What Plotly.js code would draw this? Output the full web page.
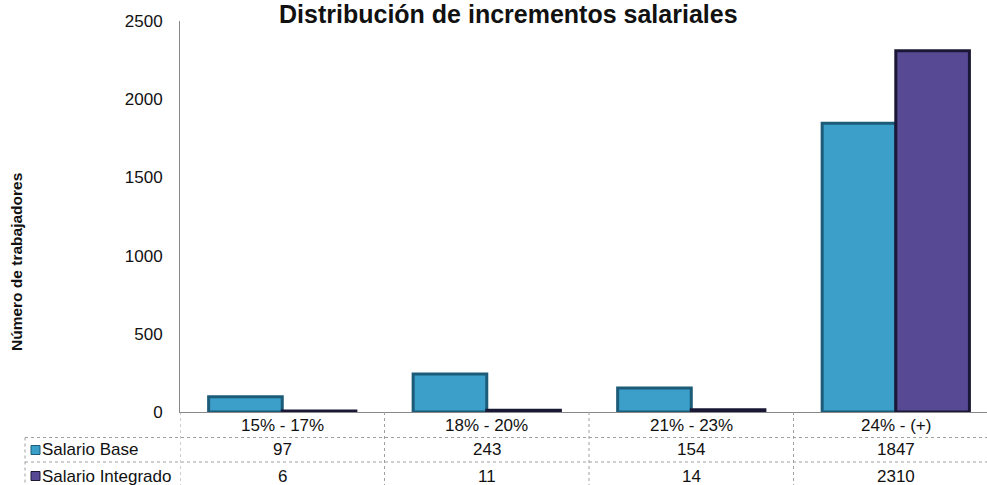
<!DOCTYPE html>
<html><head><meta charset="utf-8">
<script src="https://cdn.plot.ly/plotly-3.0.1.min.js"></script>
<style>html,body{margin:0;padding:0;background:#fff}#chart{width:987px;height:485px}</style>
</head><body><div id="chart"></div>
<script>
const categories = ["15% - 17%", "18% - 20%", "21% - 23%", "24% - (+)"];
const seriesNames = ["Salario Base", "Salario Integrado"];
const salarioBase = [97, 243, 154, 1847];
const salarioIntegrado = [6, 11, 14, 2310];
const yTicks = [0, 500, 1000, 1500, 2000, 2500];

const baseColor = "#3b9fc9", baseLine = "#1d5c78";
const intColor = "#584995", intLine = "#1a1836";
const font = "Liberation Sans, Arial, sans-serif";
const gridCol = "#a0a0a0";

const traces = [
  {type:"bar", name:seriesNames[0], x:categories, y:salarioBase,
   marker:{color:baseColor, line:{color:baseLine, width:3}}},
  {type:"bar", name:seriesNames[1], x:categories, y:salarioIntegrado,
   marker:{color:intColor, line:{color:intLine, width:3}}}
];

// plot area: left 180, width 807, bottom 412, height 391
const W = 807, H = 391;
const py = p => (412 - p) / H;   // pixel y -> paper y
const pxx = p => (p - 180) / W;  // pixel x -> paper x
const rowCat = py(425), rowBase = py(450), rowInt = py(476);

const shapes = [];
const annotations = [];
// horizontal table lines
[437.5, 462].forEach(ly => {
  shapes.push({type:"line", xref:"paper", yref:"paper",
    x0:pxx(25), x1:1, y0:py(ly), y1:py(ly),
    line:{color:gridCol, width:1, dash:"dot"}});
});
// vertical lines at category boundaries
for (let i = 0; i < categories.length; i++) {
  shapes.push({type:"line", xref:"x", yref:"paper",
    x0:i-0.5, x1:i-0.5, y0:py(412), y1:py(485),
    line:{color:gridCol, width:1, dash:"dot"}});
}
// left border of table
shapes.push({type:"line", xref:"paper", yref:"paper", x0:pxx(25), x1:pxx(25),
  y0:py(437.5), y1:py(485), line:{color:gridCol, width:1, dash:"dot"}});
// legend keys
[[baseColor, baseLine, 450],[intColor, intLine, 476]].forEach(([c, l, yy]) => {
  shapes.push({type:"rect", xref:"paper", yref:"paper",
    x0:pxx(31), x1:pxx(40), y0:py(yy+4.5), y1:py(yy-4.5),
    fillcolor:c, line:{color:l, width:1}});
});

const tf = {size:17, color:"#111", family:font};
categories.forEach((c, i) => {
  annotations.push({x:c, xref:"x", y:rowCat, yref:"paper", text:c, showarrow:false, yanchor:"middle", font:tf});
  annotations.push({x:c, xref:"x", y:rowBase, yref:"paper", text:String(salarioBase[i]), showarrow:false, yanchor:"middle", font:tf});
  annotations.push({x:c, xref:"x", y:rowInt, yref:"paper", text:String(salarioIntegrado[i]), showarrow:false, yanchor:"middle", font:tf});
});
[[seriesNames[0], rowBase],[seriesNames[1], rowInt]].forEach(([t, yy]) => {
  annotations.push({x:pxx(42), xref:"paper", y:yy, yref:"paper", text:t, showarrow:false,
    xanchor:"left", yanchor:"middle", xshift:-2, font:tf});
});
// y-axis title (placed as in the reference, slightly below plot centre)
annotations.push({x:pxx(16), xref:"paper", y:py(262), yref:"paper", textangle:-90,
  text:"<b>Número de trabajadores</b>", showarrow:false, xanchor:"center", yanchor:"middle",
  font:{size:15.5, color:"#111", family:font}});

const layout = {
  width:987, height:485,
  margin:{l:180, r:0, t:21, b:73},
  paper_bgcolor:"#fff", plot_bgcolor:"#fff",
  showlegend:false,
  barmode:"group", bargap:0.28, bargroupgap:0,
  title:{text:"<b>Distribución de incrementos salariales</b>", x:0.515, xanchor:"center",
    yref:"container", y:1, yanchor:"top", pad:{t:5},
    font:{size:25, color:"#111", family:font}},
  xaxis:{type:"category", range:[-0.5, 3.446], showticklabels:false, showgrid:false,
    showline:true, linecolor:"#888", linewidth:1, zeroline:false, ticks:""},
  yaxis:{range:[0, 2500], tickvals:yTicks, ticktext:yTicks.map(String), showgrid:false,
    showline:true, linecolor:"#888", linewidth:1, zeroline:false, ticks:"",
    ticklabelstandoff:13,
    tickfont:{size:17, color:"#111", family:font}},
  shapes, annotations
};
Plotly.newPlot("chart", traces, layout, {displayModeBar:false, staticPlot:true});
</script></body></html>
